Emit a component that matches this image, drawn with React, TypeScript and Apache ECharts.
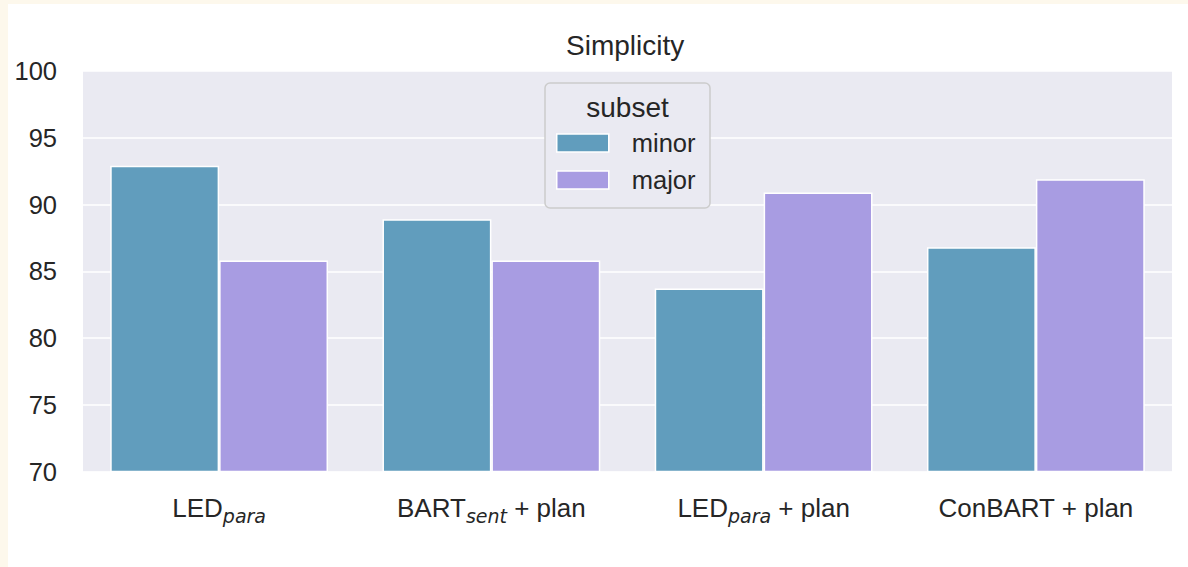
import React, { useEffect, useRef } from "react";
import * as echarts from "echarts";

const categories = ["LED_para", "BART_sent + plan", "LED_para + plan", "ConBART + plan"];
const seriesNames = ["minor", "major"];
const minorValues = [92.9, 88.9, 83.7, 86.8];
const majorValues = [85.8, 85.8, 90.9, 91.9];
const yTicks = { min: 70, max: 100, interval: 5 };

const TEXT = "#262626";
const MAIN_FONT = "Liberation Sans";

function formatCategory(v: string): string {
  const m = v.match(/^(\S+?)_(\w+)(.*)$/);
  if (m) {
    let s = `{m|${m[1]}}{s|${m[2]}}`;
    if (m[3]) s += `{m|${m[3].replace(/ /g, "\u00a0")}}`;
    return s;
  }
  return `{m|${v}}`;
}

export default function App() {
  const ref = useRef<HTMLDivElement>(null);
  useEffect(() => {
    document.body.style.margin = "4px 0 0 8px";
    document.body.style.background = "#FDF8EC";
    document.body.style.overflow = "hidden";
    const chart = echarts.init(ref.current!, null, { renderer: "svg" });
    chart.setOption({
      animation: false,
      backgroundColor: "#ffffff",
      title: {
        text: "Simplicity",
        left: 558,
        top: 27,
        padding: 0,
        textStyle: { fontSize: 28, fontWeight: "normal", color: TEXT, fontFamily: MAIN_FONT, lineHeight: 28 },
      },
      grid: {
        left: 75,
        right: 16,
        top: 67,
        bottom: 95.5,
        show: true,
        backgroundColor: "#EAEAF2",
        borderWidth: 0,
        containLabel: false,
      },
      legend: {
        data: seriesNames,
        orient: "vertical",
        left: 548,
        top: 123,
        padding: 0,
        itemGap: 5,
        itemWidth: 52,
        itemHeight: 18,
        icon: "rect",
        z: 10,
        itemStyle: { borderColor: "#ffffff", borderWidth: 1.5 },
        textStyle: { fontSize: 25.5, color: TEXT, fontFamily: MAIN_FONT, padding: [0, 0, 0, 18], lineHeight: 32 },
      },
      graphic: [
        {
          type: "rect",
          z: 8,
          shape: { x: 537, y: 79, width: 165, height: 125, r: 5 },
          style: { fill: "#EAEAF2", stroke: "#CCCCCC", lineWidth: 1.5 },
        },
        {
          type: "text",
          z: 9,
          x: 619.5,
          y: 103,
          style: {
            text: "subset",
            fontSize: 28,
            fontFamily: MAIN_FONT,
            fill: TEXT,
            align: "center",
            verticalAlign: "middle",
          },
        },
      ],
      xAxis: {
        type: "category",
        data: categories,
        axisLine: { show: false },
        axisTick: { show: false },
        splitLine: { show: false },
        axisLabel: {
          margin: 19.5,
          formatter: formatCategory,
          rich: {
            m: { fontSize: 26, fontFamily: MAIN_FONT, color: TEXT, lineHeight: 34 },
            s: {
              fontSize: 19,
              fontFamily: "DejaVu Sans",
              fontStyle: "italic",
              color: TEXT,
              lineHeight: 18,
              verticalAlign: "bottom",
            },
          },
        },
      },
      yAxis: {
        type: "value",
        min: yTicks.min,
        max: yTicks.max,
        interval: yTicks.interval,
        axisLine: { show: false },
        axisTick: { show: false },
        splitLine: { show: true, lineStyle: { color: "#ffffff", width: 1.6 } },
        axisLabel: { fontSize: 25.5, color: TEXT, fontFamily: MAIN_FONT, margin: 26 },
      },
      series: [
        {
          name: seriesNames[0],
          type: "bar",
          data: minorValues,
          barGap: "0%",
          barCategoryGap: "20%",
          itemStyle: { color: "#619DBD", borderColor: "#ffffff", borderWidth: 1.5 },
        },
        {
          name: seriesNames[1],
          type: "bar",
          data: majorValues,
          barGap: "0%",
          barCategoryGap: "20%",
          itemStyle: { color: "#A89CE2", borderColor: "#ffffff", borderWidth: 1.5 },
        },
      ],
    });
    return () => chart.dispose();
  }, []);
  return <div ref={ref} style={{ width: 1180, height: 563 }} />;
}
